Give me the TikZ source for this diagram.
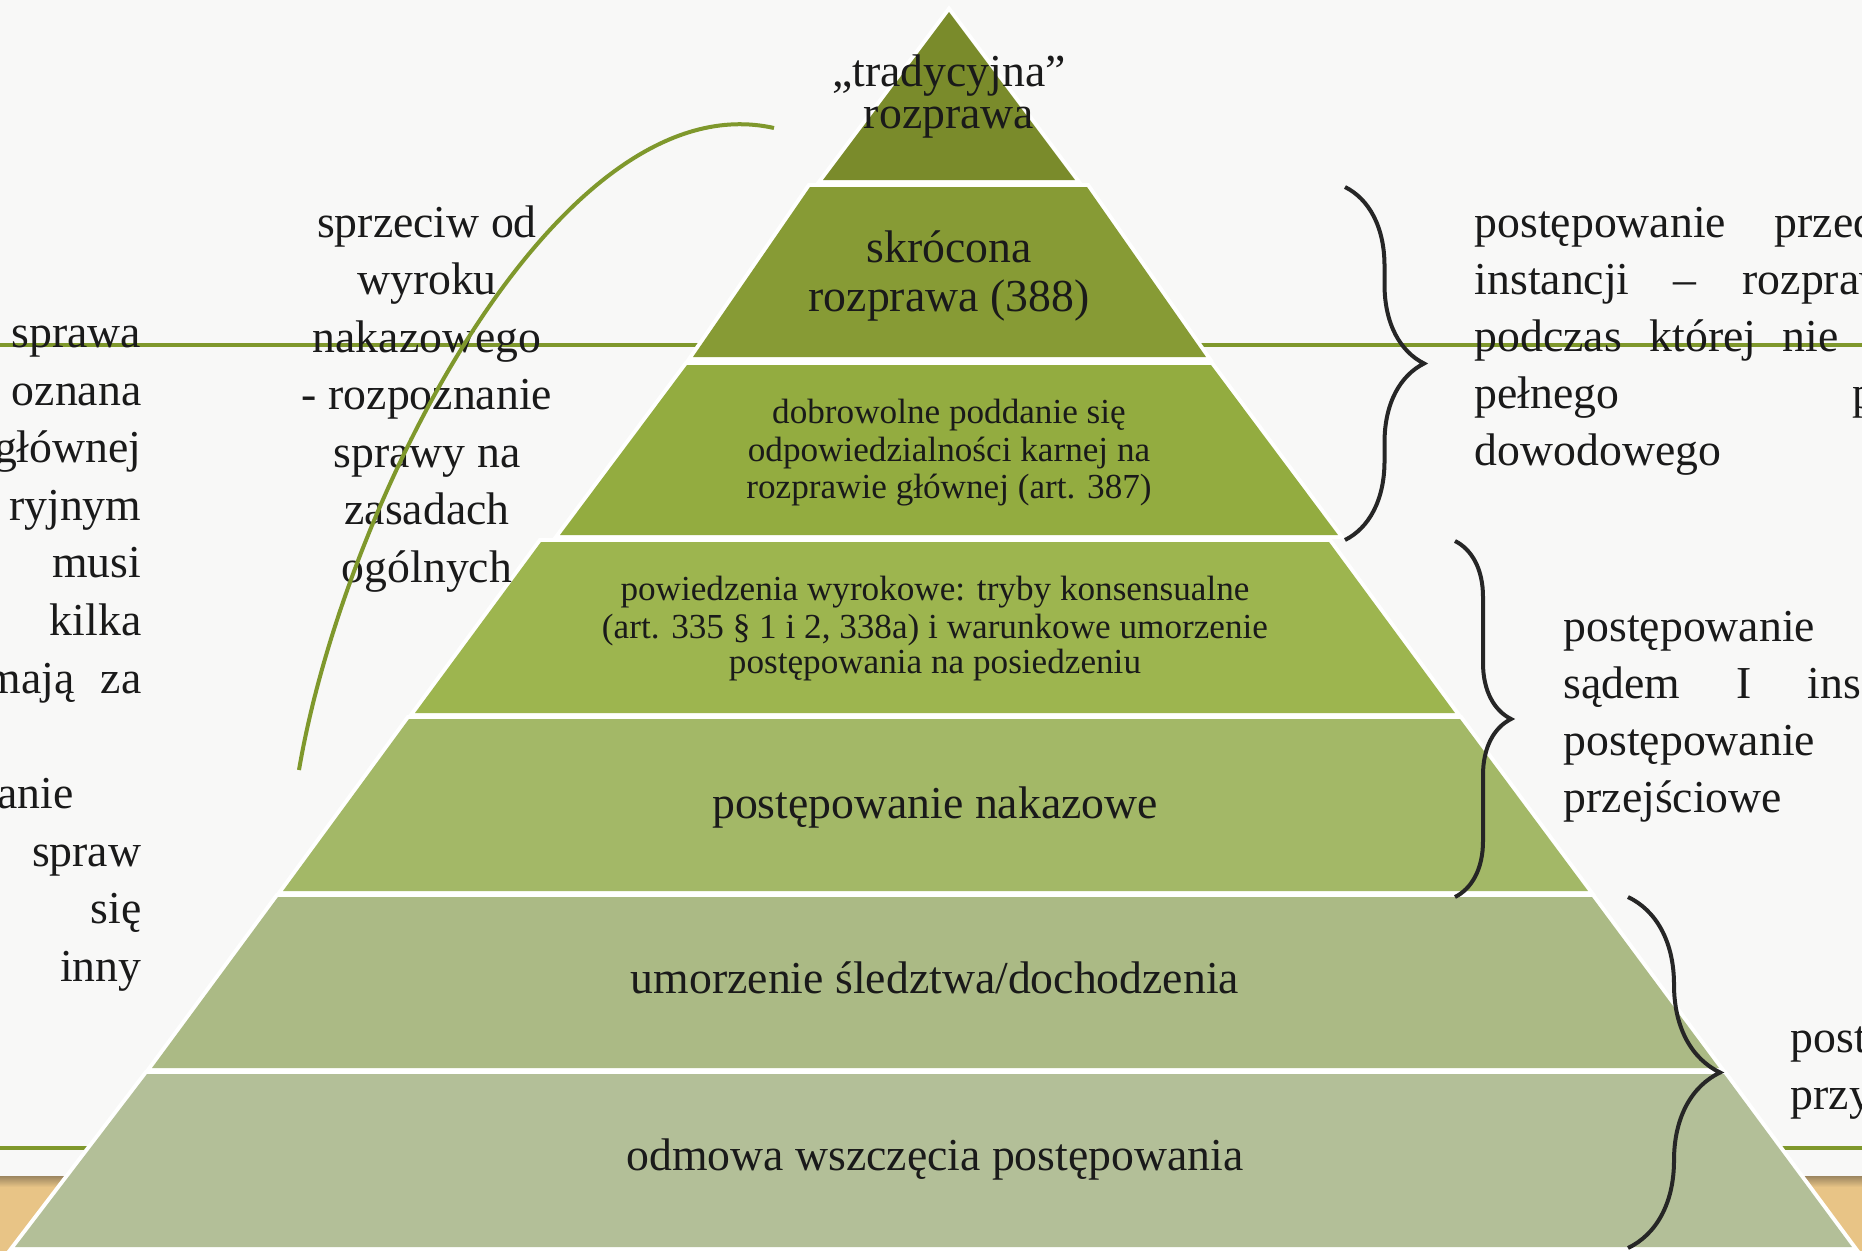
\documentclass[tikz,border=0pt]{standalone}
\usepackage{fontspec}
\setmainfont{Liberation Serif}
\usetikzlibrary{decorations.pathreplacing}

\definecolor{paper}{HTML}{F8F8F7}
\definecolor{ink}{HTML}{1A1A1A}
\definecolor{linegreen}{HTML}{7F982C}
\definecolor{bracecol}{HTML}{262626}
\definecolor{sand}{HTML}{E8C486}
\definecolor{sanddark}{HTML}{9C8660}
\definecolor{tierA}{HTML}{7A8B2B}
\definecolor{tierB}{HTML}{879B35}
\definecolor{tierC}{HTML}{93AC40}
\definecolor{tierD}{HTML}{9DB54F}
\definecolor{tierE}{HTML}{A3B867}
\definecolor{tierF}{HTML}{ABBA85}
\definecolor{tierG}{HTML}{B3BF98}

\begin{document}
\begin{tikzpicture}[x=0.01cm, y=-0.01cm,
    tier/.style={fill=#1, preaction={draw=white, line width=0.08cm}},
    big/.style={font=\fontsize{13}{16}\selectfont, text=ink, inner sep=0pt},
    small/.style={font=\fontsize{10}{11}\selectfont, text=ink, inner sep=0pt},
    curly/.style={decorate, decoration={brace, amplitude=#1}, draw=bracecol, line width=0.04cm}]
        \useasboundingbox (0,0) rectangle (1862,1251);
        \clip (0,0) rectangle (1862,1251);

        % Slide background
        \fill[paper] (0,0) rectangle (1862,1251);
        \shade[top color=sanddark, bottom color=sand] (0,1176) rectangle (1862,1187);
        \fill[sand] (0,1187) rectangle (1862,1251);
        \draw[linegreen, line width=0.035cm] (0,345) -- (1862,345);
        \draw[linegreen, line width=0.035cm] (0,1148) -- (1862,1148);

        % Pyramid tiers
        \fill[tier=tierA] (949,12) -- (1075,180) -- (823,180) -- cycle;
        \fill[tier=tierB] (810,187) -- (1087,187) -- (1206,357) -- (693,357) -- cycle;
        \fill[tier=tierC] (687,365) -- (1211,365) -- (1338,535) -- (560,535) -- cycle;
        \fill[tier=tierD] (541,542) -- (1329,542) -- (1455,713) -- (415,713) -- cycle;
        \fill[tier=tierE] (409,719) -- (1460,719) -- (1588,891) -- (283,891) -- cycle;
        \fill[tier=tierF] (278,897) -- (1592,897) -- (1719,1068) -- (152,1068) -- cycle;
        \fill[tier=tierG] (147,1074) -- (1724,1074) -- (1852,1247) -- (15,1247) -- cycle;

        % Tier labels
        \node[big, anchor=base] (top1) at (949,86) {„tradycyjna”};
        \node[big, anchor=base] (top2) at (949,128) {rozprawa};
        \node[big, anchor=base] (skr1) at (949,262) {skrócona};
        \node[big, anchor=base] (skr2) at (949,311) {rozprawa (388)};
        \node[small, anchor=base] (dob1) at (949,423) {dobrowolne poddanie się};
        \node[small, anchor=base] (dob2) at (949,461) {odpowiedzialności karnej na};
        \node[small, anchor=base] (dob3) at (949,498) {rozprawie głównej (art. 387)};
        \node[small, anchor=base] (pow1) at (935,600) {powiedzenia wyrokowe: tryby konsensualne};
        \node[small, anchor=base] (pow2) at (935,638) {(art. 335 § 1 i 2, 338a) i warunkowe umorzenie};
        \node[small, anchor=base] (pow3) at (935,673) {postępowania na posiedzeniu};
        \node[big, anchor=base] (nak) at (935,818) {postępowanie nakazowe};
        \node[big, anchor=base] (umo) at (935,993) {umorzenie śledztwa/dochodzenia};
        \node[big, anchor=base] (odm) at (935,1170) {odmowa wszczęcia postępowania};

        % Braces on the right
        \coordinate (b1t) at (1345,187);
        \coordinate (b1b) at (1345,540);
        \coordinate (b2t) at (1455,541);
        \coordinate (b2b) at (1455,897);
        \coordinate (b3t) at (1628,897);
        \coordinate (b3b) at (1628,1248);
        \draw[curly=0.79cm] (b1t) -- (b1b);
        \draw[curly=0.56cm] (b2t) -- (b2b);
        \draw[curly=0.92cm] (b3t) -- (b3b);

        % Text beside the braces
        \node[big, anchor=base west] (r1a) at (1474,237) {postępowanie};
        \node[big, anchor=base west] (r1b) at (1774,237) {przed};
        \node[big, anchor=base west] (r2a) at (1474,294) {instancji};
        \node[big, anchor=base west] (r2b) at (1673,294) {–};
        \node[big, anchor=base west] (r2c) at (1742,294) {rozprawa};
        \node[big, anchor=base west] (r3a) at (1474,351) {podczas};
        \node[big, anchor=base west] (r3b) at (1649,351) {której};
        \node[big, anchor=base west] (r3c) at (1782,351) {nie};
        \node[big, anchor=base west] (r4a) at (1474,408) {pełnego};
        \node[big, anchor=base west] (r4b) at (1852,408) {p};
        \node[big, anchor=base west] (r5a) at (1474,465) {dowodowego};

        \node[big, anchor=base west] (s1a) at (1563,641) {postępowanie};
        \node[big, anchor=base west] (s2a) at (1563,698) {sądem};
        \node[big, anchor=base west] (s2b) at (1736,698) {I};
        \node[big, anchor=base west] (s2c) at (1807,698) {ins};
        \node[big, anchor=base west] (s3a) at (1563,755) {postępowanie};
        \node[big, anchor=base west] (s4a) at (1563,812) {przejściowe};

        \node[big, anchor=base west] (p1a) at (1790,1052) {post};
        \node[big, anchor=base west] (p2a) at (1790,1109) {przy};

        % Middle column
        \node[big, anchor=base] (m1) at (427,237) {sprzeciw od};
        \node[big, anchor=base] (m2) at (427,294.5) {wyroku};
        \node[big, anchor=base] (m3) at (427,352) {nakazowego};
        \node[big, anchor=base] (m4) at (427,409.5) {- rozpoznanie};
        \node[big, anchor=base] (m5) at (427,467) {sprawy na};
        \node[big, anchor=base] (m6) at (427,524.5) {zasadach};
        \node[big, anchor=base] (m7) at (427,582) {ogólnych};

        % Left column (cut by the slide edge)
        \node[big, anchor=base east] (l1) at (142,347) {sprawa};
        \node[big, anchor=base east] (l2) at (142,405) {oznana};
        \node[big, anchor=base east] (l3) at (142,462) {głównej};
        \node[big, anchor=base east] (l4) at (142,520) {ryjnym};
        \node[big, anchor=base east] (l5) at (142,577) {musi};
        \node[big, anchor=base east] (l6) at (142,635) {kilka};
        \node[big, anchor=base east] (l7a) at (75,693) {mają};
        \node[big, anchor=base east] (l7b) at (142,693) {za};
        \node[big, anchor=base east] (l8) at (74,808) {anie};
        \node[big, anchor=base east] (l9) at (142,866) {spraw};
        \node[big, anchor=base east] (l10) at (142,923) {się};
        \node[big, anchor=base east] (l11) at (142,981) {inny};

        % Arc from the left text up to the top tier
        \coordinate (arcS) at (299,770);
        \coordinate (arcE) at (774,128);
        \draw[linegreen, line width=0.04cm] (arcS) .. controls (345,500) and (560,80) .. (arcE);
    \end{tikzpicture}
\end{document}
